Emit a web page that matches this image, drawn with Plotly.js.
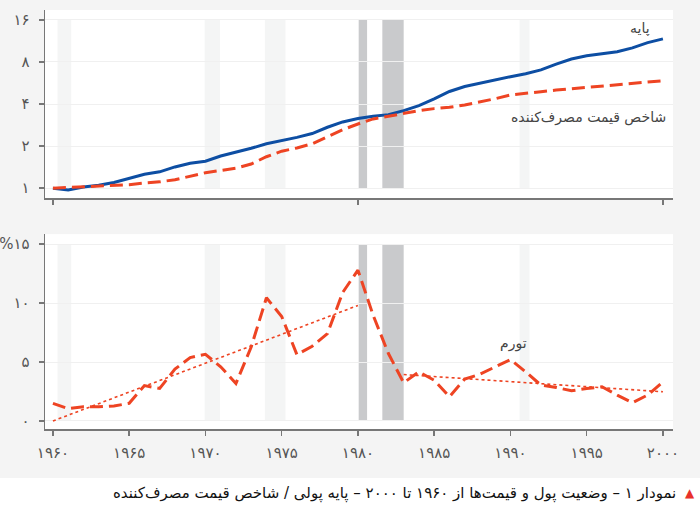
<!DOCTYPE html>
<html>
<head>
<meta charset="utf-8">
<script src="https://cdn.plot.ly/plotly-3.0.1.min.js"></script>
<style>
  body { margin: 0; background: #ffffff; }
  #chart { width: 700px; height: 511px; }
</style>
</head>
<body>
<div id="chart"></div>
<script>
const years = [1960, 1961, 1962, 1963, 1964, 1965, 1966, 1967, 1968, 1969,
               1970, 1971, 1972, 1973, 1974, 1975, 1976, 1977, 1978, 1979,
               1980, 1981, 1982, 1983, 1984, 1985, 1986, 1987, 1988, 1989,
               1990, 1991, 1992, 1993, 1994, 1995, 1996, 1997, 1998, 1999, 2000];

// Monetary base and CPI, 1960 = 1 (log scale)
const baseMoney = [1.00, 0.97, 1.02, 1.05, 1.10, 1.18, 1.26, 1.31, 1.42, 1.51,
                   1.56, 1.70, 1.81, 1.93, 2.08, 2.18, 2.31, 2.46, 2.73, 2.98,
                   3.15, 3.27, 3.36, 3.59, 3.90, 4.35, 4.92, 5.34, 5.65, 5.98,
                   6.28, 6.59, 7.03, 7.73, 8.40, 8.86, 9.12, 9.46, 10.1, 11.0, 11.7];
const cpi = [1.00, 1.01, 1.02, 1.03, 1.04, 1.06, 1.09, 1.11, 1.15, 1.22,
             1.29, 1.34, 1.39, 1.49, 1.68, 1.84, 1.94, 2.08, 2.32, 2.62,
             2.88, 3.13, 3.27, 3.44, 3.59, 3.71, 3.79, 3.94, 4.13, 4.37,
             4.65, 4.80, 4.90, 5.04, 5.15, 5.30, 5.40, 5.53, 5.63, 5.71, 5.87];

// Inflation, percent
const inflation = [1.5, 1.05, 1.2, 1.2, 1.27, 1.5, 3.0, 2.76, 4.4, 5.38,
                   5.66, 4.6, 3.18, 6.28, 10.45, 8.87, 5.63, 6.34, 7.41, 10.9,
                   12.8, 8.96, 5.72, 3.24, 4.17, 3.46, 2.06, 3.55, 3.97, 4.59,
                   5.21, 4.17, 3.04, 2.85, 2.56, 2.76, 2.9, 2.2, 1.55, 2.2, 3.32];

// Trend lines
const trend1Years = [1960, 1980];
const trend1Values = [0, 9.8];
const trend2Years = [1983, 2000];
const trend2Values = [3.94, 2.48];

// Recession bands
const recStart = [1960.3, 1969.95, 1973.9, 1980.05, 1981.6, 1990.6];
const recEnd = [1961.2, 1970.95, 1975.25, 1980.6, 1983.0, 1991.25];
const recDark = [false, false, false, true, true, false];

const topTickVals = [1, 2, 4, 8, 16];
const topTickText = ['۱', '۲', '۴', '۸', '۱۶'];
const bottomTickVals = [0, 5, 10, 15];
const bottomTickText = ['۰', '۵', '۱۰', '%۱۵'];
const xTickVals = [1960, 1965, 1970, 1975, 1980, 1985, 1990, 1995, 2000];
const xTickText = ['۱۹۶۰', '۱۹۶۵', '۱۹۷۰', '۱۹۷۵', '۱۹۸۰', '۱۹۸۵', '۱۹۹۰', '۱۹۹۵', '۲۰۰۰'];

const blue = '#0d4ea3';
const red = '#ee4423';
const fontFamily = 'DejaVu Sans, sans-serif';
const tickFont = {family: fontFamily, size: 15, color: '#555555'};

const traces = [
    {
        x: years, y: baseMoney, xaxis: 'x', yaxis: 'y',
        type: 'scatter', mode: 'lines',
        line: {color: blue, width: 3}
    },
    {
        x: years, y: cpi, xaxis: 'x', yaxis: 'y',
        type: 'scatter', mode: 'lines',
        line: {color: red, width: 3, dash: '13px,6px'}
    },
    {
        x: trend1Years, y: trend1Values, xaxis: 'x2', yaxis: 'y2',
        type: 'scatter', mode: 'lines',
        line: {color: red, width: 1.6, dash: '3px,3px'}
    },
    {
        x: trend2Years, y: trend2Values, xaxis: 'x2', yaxis: 'y2',
        type: 'scatter', mode: 'lines',
        line: {color: red, width: 1.6, dash: '3px,3px'}
    },
    {
        x: years, y: inflation, xaxis: 'x2', yaxis: 'y2',
        type: 'scatter', mode: 'lines',
        line: {color: red, width: 3, dash: '13px,6px'}
    }
];

const shapes = [];
for (let i = 0; i < recStart.length; i++) {
    const fill = recDark[i] ? '#c9cacc' : '#f4f5f5';
    shapes.push({type: 'rect', xref: 'x', yref: 'y', x0: recStart[i], x1: recEnd[i],
                 y0: 1, y1: 16, fillcolor: fill, line: {width: 0}, layer: 'below'});
    shapes.push({type: 'rect', xref: 'x2', yref: 'y2', x0: recStart[i], x1: recEnd[i],
                 y0: 0, y1: 15, fillcolor: fill, line: {width: 0}, layer: 'below'});
}
// white strip under the gray panel for the caption
shapes.push({type: 'rect', xref: 'paper', yref: 'paper', x0: -0.2, x1: 1.2,
             y0: -0.3, y1: -0.117, fillcolor: '#ffffff', line: {width: 0}, layer: 'below'});

const xRange = [1959.48, 2000.66];

const commonY = {
    showline: true, linecolor: '#777777', linewidth: 1.5,
    ticks: 'outside', ticklen: 5, tickcolor: '#777777', tickwidth: 1.5,
    ticklabelstandoff: 6,
    showgrid: true, gridcolor: '#f0f0f0', gridwidth: 1,
    zeroline: false, tickfont: tickFont
};

const layout = {
    width: 700,
    height: 511,
    margin: {l: 45, r: 27, t: 10, b: 82},
    paper_bgcolor: '#f4f4f4',
    plot_bgcolor: '#ffffff',
    showlegend: false,
    font: {family: fontFamily},
    xaxis: {
        domain: [0, 1], anchor: 'y', range: xRange,
        showline: true, linecolor: '#777777', linewidth: 1.5,
        ticks: 'outside', ticklen: 5, tickcolor: '#777777', tickwidth: 1.5,
        tickvals: [1960, 1980, 2000], showticklabels: false,
        showgrid: false, zeroline: false
    },
    yaxis: Object.assign({}, commonY, {
        domain: [0.551, 1], anchor: 'x', type: 'log',
        range: [-0.071, 1.275],
        tickvals: topTickVals, ticktext: topTickText
    }),
    xaxis2: {
        domain: [0, 1], anchor: 'y2', range: xRange,
        showline: true, linecolor: '#777777', linewidth: 1.5,
        ticks: 'outside', ticklen: 5, tickcolor: '#777777', tickwidth: 1.5,
        ticklabelstandoff: 4,
        tickvals: xTickVals, ticktext: xTickText,
        tickfont: tickFont,
        showgrid: false, zeroline: false
    },
    yaxis2: Object.assign({}, commonY, {
        domain: [0, 0.465], anchor: 'x2',
        range: [-0.68, 15.85],
        tickvals: bottomTickVals, ticktext: bottomTickText
    }),
    shapes: shapes,
    annotations: [
        {xref: 'x', yref: 'y', x: 1998.5, y: Math.log10(14.0), text: 'پایه',
         showarrow: false, font: {family: fontFamily, size: 14, color: '#444444'}},
        {xref: 'x', yref: 'y', x: 2000.3, y: Math.log10(3.2), text: 'شاخص قیمت مصرف‌کننده',
         xanchor: 'right', showarrow: false, font: {family: fontFamily, size: 14, color: '#444444'}},
        {xref: 'x2', yref: 'y2', x: 1990.2, y: 6.6, text: 'تورم',
         showarrow: false, font: {family: fontFamily, size: 14, color: '#444444'}},
        {xref: 'paper', yref: 'paper', x: 1.0275, y: -0.153, text: '▲',
         xanchor: 'center', yanchor: 'middle', showarrow: false,
         font: {family: fontFamily, size: 12, color: '#e8312a'}},
        {xref: 'paper', yref: 'paper', x: 1.008, y: -0.153,
         text: 'نمودار ۱ – وضعیت پول و قیمت‌ها از ۱۹۶۰ تا ۲۰۰۰ – پایه پولی / شاخص قیمت مصرف‌کننده',
         xanchor: 'right', yanchor: 'middle', showarrow: false,
         font: {family: fontFamily, size: 15, color: '#111111'}}
    ]
};

Plotly.newPlot('chart', traces, layout, {staticPlot: true});
</script>
</body>
</html>
